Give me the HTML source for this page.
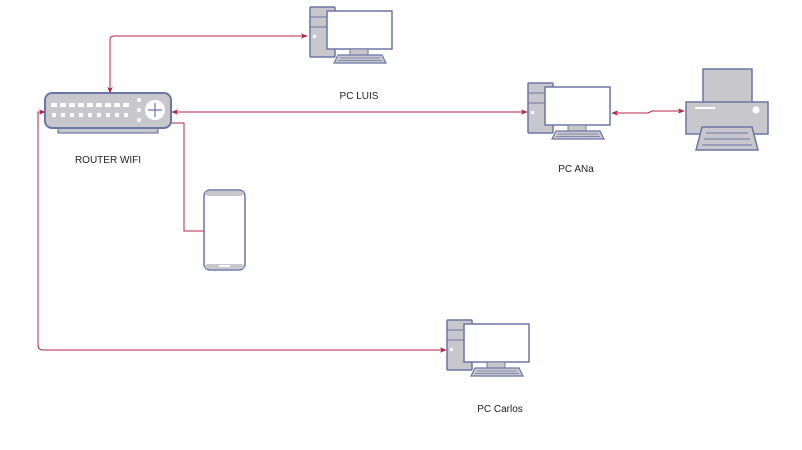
<!DOCTYPE html>
<html><head><meta charset="utf-8"><style>
body{margin:0;background:#fff;width:802px;height:445px;overflow:hidden}
svg text{font-family:"Liberation Sans",sans-serif;font-size:10px;fill:#222}
</style></head><body>
<svg width="802" height="445" viewBox="0 0 802 445" xmlns="http://www.w3.org/2000/svg">
<defs>
<marker id="a" viewBox="0 0 10 10" refX="9" refY="5" markerWidth="7" markerHeight="7" orient="auto-start-reverse"><path d="M0,1 L10,5 L0,9 L3,5z" fill="#b0244a"/></marker>
<g id="pc">
<rect x="0" y="0" width="25" height="50" fill="#c8c8cc" stroke="#6a76a6" stroke-width="1.5" rx="1"/>
<line x1="0" y1="10" x2="18" y2="10" stroke="#6a76a6"/>
<line x1="0" y1="20" x2="18" y2="20" stroke="#6a76a6"/>
<rect x="3" y="28" width="3" height="3" fill="#fff"/>
<rect x="17" y="4" width="65" height="38" fill="#fff" stroke="#6a76a6" stroke-width="1.5"/>
<rect x="40" y="42" width="18" height="6" fill="#c8c8cc" stroke="#6a76a6"/>
<path d="M28,48 L72,48 L76,56 L24,56z" fill="#c8c8cc" stroke="#6a76a6" stroke-width="1.2"/>
<line x1="30" y1="51" x2="70" y2="51" stroke="#6a76a6" stroke-width="0.8"/>
<line x1="28" y1="53.5" x2="72" y2="53.5" stroke="#6a76a6" stroke-width="0.8"/>
</g>
</defs>
<g fill="none" stroke="#b0244a" stroke-width="1">
<path d="M110,93 V40 Q110,36 114,36 H307" marker-start="url(#a)" marker-end="url(#a)"/>
<path d="M172,112 H527" marker-start="url(#a)" marker-end="url(#a)"/>
<path d="M612,113 H648 L652,111 H684" marker-start="url(#a)" marker-end="url(#a)"/>
<path d="M204,231 H184 V123 H167 V127" marker-end="url(#a)"/>
<path d="M45,112 H38 V345 Q38,350 43,350 H446" marker-start="url(#a)" marker-end="url(#a)"/>
</g>
<!-- router -->
<rect x="58" y="124" width="100" height="9" fill="#c8c8cc" stroke="#6a76a6" stroke-width="1.2"/>
<rect x="45" y="93" width="126" height="35" rx="7" fill="#c8c8cc" stroke="#6a76a6" stroke-width="2"/>
<g fill="#fff">
<rect x="51" y="103" width="6" height="4"/><rect x="60" y="103" width="6" height="4"/><rect x="69" y="103" width="6" height="4"/><rect x="78" y="103" width="6" height="4"/><rect x="87" y="103" width="6" height="4"/><rect x="96" y="103" width="6" height="4"/><rect x="105" y="103" width="6" height="4"/><rect x="114" y="103" width="6" height="4"/><rect x="123" y="103" width="6" height="4"/>
<rect x="52" y="113" width="4" height="4"/><rect x="61" y="113" width="4" height="4"/><rect x="70" y="113" width="4" height="4"/><rect x="79" y="113" width="4" height="4"/><rect x="88" y="113" width="4" height="4"/><rect x="97" y="113" width="4" height="4"/><rect x="106" y="113" width="4" height="4"/><rect x="115" y="113" width="4" height="4"/><rect x="124" y="113" width="4" height="4"/>
<circle cx="139" cy="100" r="2"/><circle cx="139" cy="110" r="2"/><circle cx="139" cy="120" r="2"/>
<circle cx="155" cy="110" r="10"/>
</g>
<path d="M155,103 V117 M148,110 H162" stroke="#6a76a6" stroke-width="1.2"/>
<text x="108" y="163" text-anchor="middle">ROUTER WIFI</text>
<use href="#pc" x="310" y="7"/>
<text x="359" y="99" text-anchor="middle">PC LUIS</text>
<use href="#pc" x="528" y="83"/>
<text x="576" y="172" text-anchor="middle">PC ANa</text>
<use href="#pc" x="447" y="320"/>
<text x="500" y="412" text-anchor="middle">PC Carlos</text>
<!-- printer -->
<rect x="703" y="69" width="49" height="34" fill="#c8c8cc" stroke="#6a76a6" stroke-width="1.5"/>
<rect x="686" y="102" width="82" height="32" fill="#c8c8cc" stroke="#6a76a6" stroke-width="1.5"/>
<rect x="695" y="107" width="20" height="2" fill="#fff"/>
<circle cx="756" cy="110" r="3.5" fill="#fff"/>
<path d="M702,127 L752,127 L758,150 L696,150z" fill="#c8c8cc" stroke="#6a76a6" stroke-width="1.5"/>
<path d="M706,133 H748 M704,139 H750 M702,145 H752" stroke="#6a76a6"/>
<!-- phone -->
<rect x="204" y="190" width="41" height="80" rx="6" fill="#fff" stroke="#6a76a6" stroke-width="1.5"/>
<rect x="205" y="191" width="39" height="5" rx="4" fill="#c8c8cc"/>
<rect x="205" y="264" width="39" height="5" rx="3" fill="#c8c8cc"/>
<rect x="219" y="265" width="11" height="2" fill="#fff"/>
</svg>
</body></html>
